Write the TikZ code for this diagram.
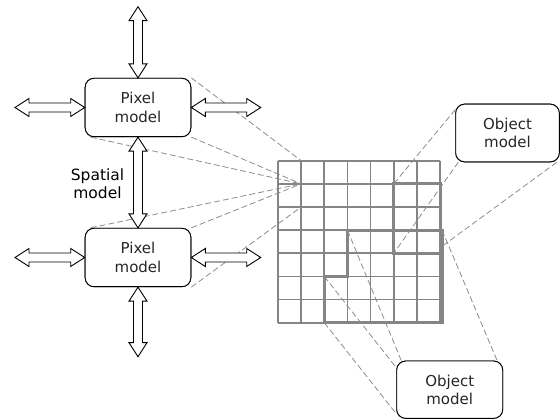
\documentclass[tikz,border=0pt]{standalone}
\usepackage{fontspec}
\setmainfont{DejaVu Sans}
\usetikzlibrary{calc}
\tikzset{
  box/.style={draw=black, line width=0.9pt, fill=white, rounded corners=9pt, align=center,
    font=\fontsize{15}{18.5}\selectfont, text=black!85, inner sep=0pt},
  gridline/.style={draw=black!48, line width=1.7pt},
  region/.style={draw=black!48, line width=3pt, line join=miter},
  proj/.style={draw=black!45, line width=0.8pt, dash pattern=on 6pt off 3pt},
  barrow/.style={draw=black, line width=0.9pt, fill=white, line join=miter},
  lbl/.style={align=center, font=\fontsize{15.5}{18}\selectfont, text=black}
}
\newcommand{\blockarr}[2]{%
  \path (#1) coordinate (ba-a) (#2) coordinate (ba-b);
  \path ($(ba-a)!14pt!(ba-b)$) coordinate (ba-ha) ($(ba-b)!14pt!(ba-a)$) coordinate (ba-hb);
  \draw[barrow] (ba-a) -- ($(ba-ha)!9pt!90:(ba-b)$) -- ($(ba-ha)!4.5pt!90:(ba-b)$)
    -- ($(ba-hb)!4.5pt!-90:(ba-a)$) -- ($(ba-hb)!9pt!-90:(ba-a)$) -- (ba-b)
    -- ($(ba-hb)!9pt!90:(ba-a)$) -- ($(ba-hb)!4.5pt!90:(ba-a)$)
    -- ($(ba-ha)!4.5pt!-90:(ba-b)$) -- ($(ba-ha)!9pt!-90:(ba-b)$) -- cycle;}
\begin{document}
\begin{tikzpicture}[x=1pt,y=-1pt]
\useasboundingbox (0,0) rectangle (560,419);
% grid coordinates
\foreach \i in {0,...,7}{
  \foreach \j in {0,...,7}{
    \coordinate (c-\i-\j) at ({278+\i*23.15},{160.7+\j*23.15});
  }
}
% nodes
\node[box, minimum width=105.7pt, minimum height=58.4pt] (p1) at (138,107.5) {Pixel\\model};
\node[box, minimum width=105.7pt, minimum height=58.4pt] (p2) at (138,257.5) {Pixel\\model};
\node[box, minimum width=103.6pt, minimum height=57.7pt] (o1) at (507.5,133) {Object\\model};
\node[box, minimum width=106pt, minimum height=57.3pt] (o2) at (449.7,389.7) {Object\\model};
\node[lbl] (sp) at (97.5,184) {Spatial\\model};
% free ends of the double arrows
\coordinate (t1) at (138,6.7);
\coordinate (l1) at (15,107.5);
\coordinate (r1) at (260.7,107.5);
\coordinate (l2) at (15,257.5);
\coordinate (r2) at (260.7,257.5);
\coordinate (b2) at (138,356.7);
% grid
\foreach \i in {0,...,7}{
  \draw[gridline] (c-\i-0) -- (c-\i-7);
  \draw[gridline] (c-0-\i) -- (c-7-\i);
}
\draw[region] (c-5-1) -- (c-7-1) -- (c-7-4) -- (c-5-4) -- cycle;
\draw[region] (c-3-3) -- ($(c-7-3)+(2,0)$) -- ($(c-7-7)+(2,0)$) -- (c-2-7) -- (c-2-5) -- (c-3-5) -- cycle;
% projection lines
\draw[proj] (p1.north east) -- (c-1-0);
\draw[proj] (p1.south east) -- (c-1-1);
\draw[proj] ($(p1.south west)+(6,0)$) -- (c-1-1);
\draw[proj] ($(p2.north west)+(6,0)$) -- (c-1-1);
\draw[proj] (p2.north east) -- (c-1-1);
\draw[proj] (p2.south east) -- (c-1-2);
\draw[proj] ($(o1.north west)+(0,6)$) -- (c-5-1);
\draw[proj] ($(o1.south west)+(3,0)$) -- (c-5-4);
\draw[proj] ($(o1.south east)+(-3,0)$) -- ($(c-7-4)+(2,-7)$);
\draw[proj] (c-3-3) -- ($(o2.north west)+(5,0)$);
\draw[proj] (c-2-5) -- ($(o2.north west)+(0,7)$);
\draw[proj] (c-2-7) -- ($(o2.south west)+(0,-5)$);
\draw[proj] ($(c-7-3)+(2,0)$) -- ($(o2.north east)+(-6,0)$);
% redraw boxes on top
\node[box, minimum width=105.7pt, minimum height=58.4pt] at (p1) {Pixel\\model};
\node[box, minimum width=105.7pt, minimum height=58.4pt] at (p2) {Pixel\\model};
\node[box, minimum width=103.6pt, minimum height=57.7pt] at (o1) {Object\\model};
\node[box, minimum width=106pt, minimum height=57.3pt] at (o2) {Object\\model};
% double block arrows
\blockarr{p1.north}{t1}
\blockarr{p1.west}{l1}
\blockarr{p1.east}{r1}
\blockarr{p1.south}{p2.north}
\blockarr{p2.west}{l2}
\blockarr{p2.east}{r2}
\blockarr{p2.south}{b2}
\end{tikzpicture}
\end{document}
